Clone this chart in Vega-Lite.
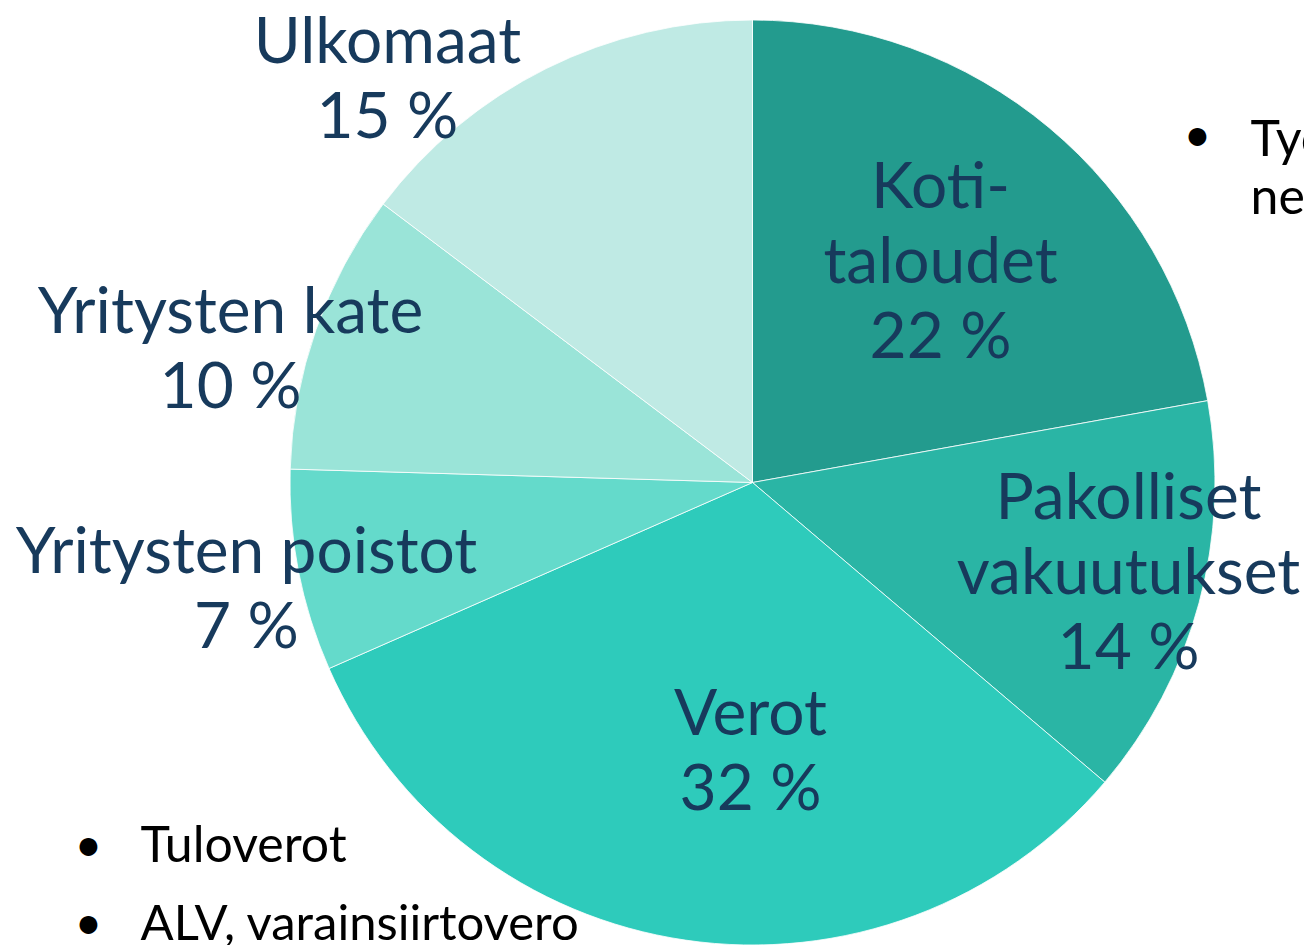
{
  "$schema": "https://vega.github.io/schema/vega-lite/v6.json",
  "width": 925,
  "height": 925,
  "autosize": {"type": "none"},
  "padding": {"left": 290, "top": 20, "right": 89, "bottom": 0},
  "background": "white",
  "config": {"view": {"stroke": null}, "text": {"font": "Lato", "lineBreak": "\n"}},
  "data": {
    "values": [
      {"category": "Kotitaloudet", "label": "Koti-\ntaloudet\n22 %", "share": 22.17, "order": 1},
      {"category": "Pakolliset vakuutukset", "label": "Pakolliset\nvakuutukset\n14 %", "share": 14.05, "order": 2},
      {"category": "Verot", "label": "Verot\n32 %", "share": 32.2, "order": 3},
      {"category": "Yritysten poistot", "label": "Yritysten poistot\n7 %", "share": 7.05, "order": 4},
      {"category": "Yritysten kate", "label": "Yritysten kate\n10 %", "share": 9.82, "order": 5},
      {"category": "Ulkomaat", "label": "Ulkomaat\n15 %", "share": 14.72, "order": 6}
    ]
  },
  "layer": [
    {
      "mark": {"type": "arc", "stroke": "white", "strokeWidth": 0.8},
      "encoding": {
        "theta": {"field": "share", "type": "quantitative", "stack": true},
        "order": {"field": "order", "type": "quantitative", "sort": "ascending"},
        "color": {
          "field": "category",
          "type": "nominal",
          "legend": null,
          "scale": {
            "domain": ["Kotitaloudet", "Pakolliset vakuutukset", "Verot", "Yritysten poistot", "Yritysten kate", "Ulkomaat"],
            "range": ["#239b8e", "#2ab5a5", "#2ecbbb", "#64dacb", "#9ae4d8", "#bfeae4"]
          }
        }
      }
    },
    {
      "transform": [{"filter": "datum.category === 'Kotitaloudet'"}],
      "mark": {"type": "text", "lineBreak": "\n", "theta": 0.7004, "radius": 291.7, "dy": -70, "fontSize": 64, "lineHeight": 75, "color": "#173a5c", "align": "center", "baseline": "middle"},
      "encoding": {"text": {"field": "label"}}
    },
    {
      "transform": [{"filter": "datum.category === 'Pakolliset vakuutukset'"}],
      "mark": {"type": "text", "lineBreak": "\n", "theta": 1.7982, "radius": 385.9, "dy": -70, "fontSize": 64, "lineHeight": 75, "color": "#173a5c", "align": "center", "baseline": "middle"},
      "encoding": {"text": {"field": "label"}}
    },
    {
      "transform": [{"filter": "datum.category === 'Verot'"}],
      "mark": {"type": "text", "lineBreak": "\n", "theta": 3.149, "radius": 267, "dy": -33, "fontSize": 64, "lineHeight": 75, "color": "#173a5c", "align": "center", "baseline": "middle"},
      "encoding": {"text": {"field": "label"}}
    },
    {
      "transform": [{"filter": "datum.category === 'Yritysten poistot'"}],
      "mark": {"type": "text", "lineBreak": "\n", "theta": 4.508, "radius": 516.8, "dy": -33, "fontSize": 64, "lineHeight": 75, "color": "#173a5c", "align": "center", "baseline": "middle"},
      "encoding": {"text": {"field": "label"}}
    },
    {
      "transform": [{"filter": "datum.category === 'Yritysten kate'"}],
      "mark": {"type": "text", "lineBreak": "\n", "theta": 4.9655, "radius": 539.2, "dy": -33, "fontSize": 64, "lineHeight": 75, "color": "#173a5c", "align": "center", "baseline": "middle"},
      "encoding": {"text": {"field": "label"}}
    },
    {
      "transform": [{"filter": "datum.category === 'Ulkomaat'"}],
      "mark": {"type": "text", "lineBreak": "\n", "theta": 5.5508, "radius": 546, "dy": -33, "fontSize": 64, "lineHeight": 75, "color": "#173a5c", "align": "center", "baseline": "middle"},
      "encoding": {"text": {"field": "label"}}
    },
    {
      "data": {"values": [{"note": "•"}]},
      "mark": {"type": "text", "dx": -664, "dy": 364, "fontSize": 48, "color": "black", "align": "center", "baseline": "middle"},
      "encoding": {"text": {"field": "note"}}
    },
    {
      "data": {"values": [{"note": "Tuloverot"}]},
      "mark": {"type": "text", "dx": -612, "dy": 364, "fontSize": 50, "color": "black", "align": "left", "baseline": "middle"},
      "encoding": {"text": {"field": "note"}}
    },
    {
      "data": {"values": [{"note": "•"}]},
      "mark": {"type": "text", "dx": -664, "dy": 442, "fontSize": 48, "color": "black", "align": "center", "baseline": "middle"},
      "encoding": {"text": {"field": "note"}}
    },
    {
      "data": {"values": [{"note": "ALV, varainsiirtovero"}]},
      "mark": {"type": "text", "dx": -612, "dy": 442, "fontSize": 49, "color": "black", "align": "left", "baseline": "middle"},
      "encoding": {"text": {"field": "note"}}
    },
    {
      "data": {"values": [{"note": "•"}]},
      "mark": {"type": "text", "dx": 445, "dy": -346, "fontSize": 48, "color": "black", "align": "center", "baseline": "middle"},
      "encoding": {"text": {"field": "note"}}
    },
    {
      "data": {"values": [{"note": "Työnantajamaksut\nneutraaleja"}]},
      "mark": {"type": "text", "lineBreak": "\n", "dx": 498, "dy": -342, "fontSize": 50, "lineHeight": 58, "color": "black", "align": "left", "baseline": "middle"},
      "encoding": {"text": {"field": "note"}}
    }
  ]
}
